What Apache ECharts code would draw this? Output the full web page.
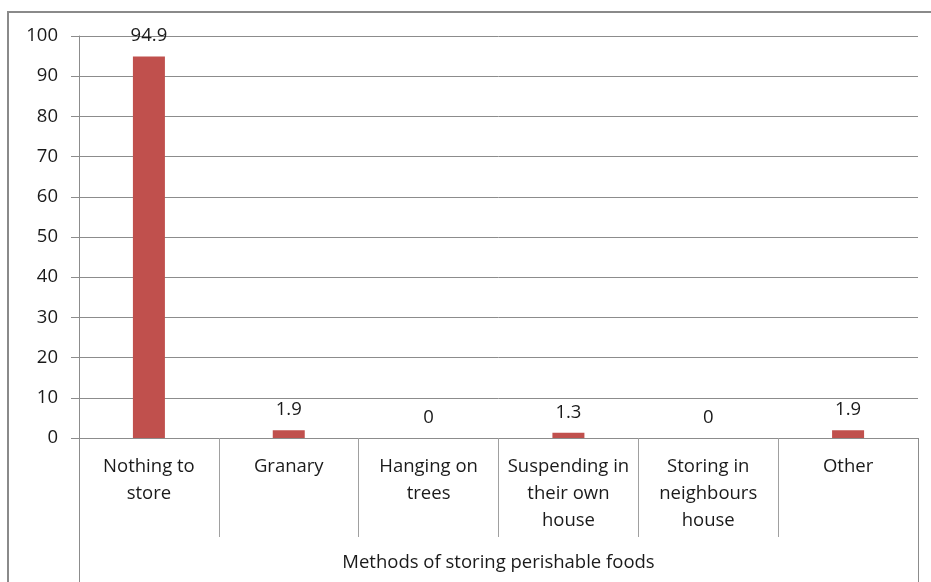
<!DOCTYPE html>
<html>
<head>
<meta charset="utf-8">
<script src="https://cdn.jsdelivr.net/npm/echarts@6/dist/echarts.min.js"></script>
<style>
  html, body { margin: 0; padding: 0; background: #fff; }
  #chart { width: 931px; height: 582px; }
</style>
</head>
<body>
<div id="chart"></div>
<script>
// Storage methods for perishable foods (percent of households)
const categories = [
  'Nothing to\nstore',
  'Granary',
  'Hanging on\ntrees',
  'Suspending in\ntheir own\nhouse',
  'Storing in\nneighbours\nhouse',
  'Other'
];
const percentages = [94.9, 1.9, 0, 1.3, 0, 1.9];
const groupTitle = ['Methods of storing perishable foods'];
const yTicks = { min: 0, max: 100, interval: 10 };

const FONT = '"Open Sans", "Noto Sans", sans-serif';
const FS = 18.5;
const LINE = '#8c8c8c';
const TEXT = '#1a1a1a';

const chart = echarts.init(document.getElementById('chart'), null, { renderer: 'canvas' });

chart.setOption({
  backgroundColor: '#ffffff',
  animation: false,
  graphic: [{
    type: 'rect',
    shape: { x: 8, y: 12, width: 960, height: 620 },
    style: { fill: 'none', stroke: '#8a8a8a', lineWidth: 2 },
    silent: true,
    z: -1
  }],
  grid: { left: 79, right: 13, top: 36, bottom: 144, containLabel: false },
  xAxis: [
    {
      type: 'category',
      data: categories,
      position: 'bottom',
      axisLine: { show: true, lineStyle: { color: LINE, width: 1 } },
      axisTick: { show: true, length: 99, alignWithLabel: false, lineStyle: { color: '#a0a0a0', width: 1 } },
      axisLabel: {
        margin: 15,
        color: TEXT,
        fontFamily: FONT,
        fontSize: FS,
        lineHeight: 27,
        interval: 0,
        align: 'center',
        verticalAlign: 'top'
      },
      splitLine: { show: false }
    },
    {
      type: 'category',
      data: groupTitle,
      position: 'bottom',
      offset: 0,
      axisLine: { show: false },
      axisTick: { show: true, length: 150, alignWithLabel: false, lineStyle: { color: LINE, width: 1 } },
      axisLabel: {
        margin: 114,
        color: TEXT,
        fontFamily: FONT,
        fontSize: FS,
        lineHeight: 22,
        verticalAlign: 'top'
      }
    }
  ],
  yAxis: {
    type: 'value',
    min: yTicks.min,
    max: yTicks.max,
    interval: yTicks.interval,
    axisLine: { show: true, lineStyle: { color: LINE, width: 1 } },
    axisTick: { show: true, length: 8, inside: false, lineStyle: { color: LINE, width: 1 } },
    axisLabel: {
      margin: 21,
      color: TEXT,
      fontFamily: FONT,
      fontSize: FS
    },
    splitLine: { show: true, lineStyle: { color: LINE, width: 1 } }
  },
  series: [{
    type: 'bar',
    xAxisIndex: 0,
    data: percentages,
    barWidth: 32,
    itemStyle: { color: '#C0504D' },
    label: {
      show: true,
      position: 'top',
      distance: 11,
      color: TEXT,
      fontFamily: FONT,
      fontSize: FS
    }
  }]
});
</script>
</body>
</html>
